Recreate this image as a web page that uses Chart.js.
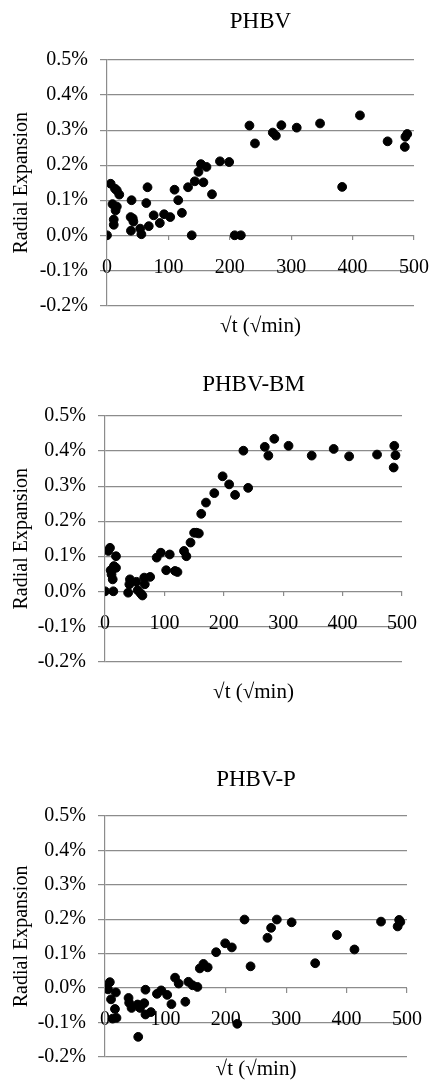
<!DOCTYPE html>
<html>
<head>
<meta charset="utf-8">
<script src="https://cdn.jsdelivr.net/npm/chart.js@4/dist/chart.umd.min.js"></script>
<style>
  html, body { margin: 0; padding: 0; background: #fff; }
  body { width: 430px; height: 1083px; position: relative; overflow: hidden; }
  canvas { position: absolute; left: 0; }
</style>
</head>
<body>
<canvas id="c1"></canvas>
<canvas id="c2"></canvas>
<canvas id="c3"></canvas>
<script>
// values: x = sqrt(t) in sqrt(min), y = radial expansion in %
const titles = ["PHBV", "PHBV-BM", "PHBV-P"];
const yTicks = [-0.2, -0.1, 0, 0.1, 0.2, 0.3, 0.4, 0.5];
const xTicks = [0, 100, 200, 300, 400, 500];

const phbvX = [0, 6, 9, 11, 11, 13, 16, 20, 14, 16, 40, 38.5, 42, 43, 39, 54, 56, 66, 64, 68,
  76, 86, 93, 103, 110, 116, 122, 132, 138, 143, 149, 153, 157, 162, 171, 184, 199, 208, 218, 232,
  241, 270, 275, 284, 309, 347, 383, 412, 457, 485, 486, 489];
const phbvY = [0, 0.147, 0.089, 0.045, 0.030, 0.133, 0.128, 0.116, 0.071, 0.082, 0.1, 0.052, 0.048, 0.039, 0.013, 0.019, 0.003, 0.137, 0.092, 0.026,
  0.057, 0.035, 0.06, 0.052, 0.13, 0.1, 0.064, 0.137, 0, 0.154, 0.181, 0.203, 0.151, 0.195, 0.117, 0.211, 0.209, 0, 0, 0.313,
  0.262, 0.293, 0.284, 0.314, 0.307, 0.319, 0.138, 0.342, 0.268, 0.252, 0.281, 0.289];

const bmX = [0, 14, 5.6, 8.4, 18.5, 9.5, 13, 15, 18.5, 11, 13, 39, 41, 42, 53, 55, 63, 67, 66, 76,
  87, 94, 103, 109, 118, 122, 133, 137, 144, 150, 154, 158, 162, 170, 184, 198, 209, 219, 233, 241,
  269, 275, 285, 309, 348, 385, 411, 458, 487, 489, 486, 60];
const bmY = [0, 0, 0.115, 0.124, 0.1, 0.06, 0.063, 0.072, 0.067, 0.048, 0.034, -0.004, 0.02, 0.034, 0.027, 0.003, -0.012, 0.02, 0.039, 0.041,
  0.096, 0.11, 0.06, 0.105, 0.058, 0.055, 0.115, 0.1, 0.139, 0.167, 0.167, 0.165, 0.221, 0.253, 0.28, 0.328, 0.305, 0.275, 0.401, 0.295,
  0.412, 0.387, 0.435, 0.415, 0.387, 0.406, 0.385, 0.39, 0.415, 0.388, 0.353, -0.006];

const pX = [0, 8, 5, 10, 18, 16.5, 12.7, 19, 39, 40, 44, 55, 54, 58, 67, 65, 67, 76, 86, 93,
  103, 110, 116, 122, 133, 138, 145, 153, 157, 163, 170, 184, 199, 210, 219, 231, 241, 269, 275, 284.5,
  309, 348, 384, 413, 457, 484.5, 487, 489];
const pY = [0, 0.017, -0.004, -0.033, -0.013, -0.061, -0.089, -0.087, -0.029, -0.043, -0.058, -0.142, -0.048, -0.058, -0.005, -0.044, -0.077, -0.07, -0.017, -0.007,
  -0.02, -0.047, 0.03, 0.013, -0.04, 0.018, 0.008, 0.003, 0.057, 0.07, 0.06, 0.104, 0.13, 0.118, -0.104, 0.199, 0.063, 0.146, 0.175, 0.199,
  0.191, 0.072, 0.154, 0.112, 0.193, 0.179, 0.198, 0.192];

const seriesX = [phbvX, bmX, pX];
const seriesY = [phbvY, bmY, pY];

// page positions of each panel (title centre, plot box, x title centre)
const panels = [
  { top: 0,   titleY: 22,  plotTop: 60,  plotBottom: 305,  plotLeft: 107, plotRight: 414, xTitleY: 326 },
  { top: 340, titleY: 385, plotTop: 416, plotBottom: 661,  plotLeft: 105, plotRight: 402, xTitleY: 692 },
  { top: 710, titleY: 780, plotTop: 816, plotBottom: 1058, plotLeft: 105, plotRight: 407, xTitleY: 1069 },
];

const serif = "'Liberation Serif', 'Times New Roman', serif";
const gridColor = "#8c8c8c";
Chart.defaults.font.family = serif;
Chart.defaults.color = "#000";

panels.forEach((p, i) => {
  const canvas = document.getElementById("c" + (i + 1));
  const h = p.xTitleY + 13 - p.top;
  canvas.width = 430;
  canvas.height = h;
  canvas.style.top = p.top + "px";

  const pts = seriesX[i].map((x, k) => ({ x: x, y: seriesY[i][k] }));

  new Chart(canvas, {
    type: "scatter",
    data: {
      datasets: [{
        data: pts,
        xAxisID: "x",
        yAxisID: "y",
        backgroundColor: "#000",
        borderColor: "#000",
        pointRadius: 4.4,
        pointHoverRadius: 4.4,
      }],
    },
    options: {
      responsive: false,
      animation: false,
      layout: { padding: { top: 0, left: 0, bottom: 0, right: 430 - p.plotRight } },
      plugins: {
        legend: { display: false },
        tooltip: { enabled: false },
        title: {
          display: true,
          text: titles[i],
          fullSize: false,
          color: "#000",
          font: { size: 23, weight: "normal", family: serif },
          padding: { top: p.titleY - p.top - 13.8, bottom: p.plotTop - p.titleY - 13.8 },
        },
      },
      scales: {
        x: {
          type: "linear",
          position: "bottom",
          min: 0,
          max: 500,
          ticks: { display: false },
          grid: { display: false, drawTicks: false },
          border: { display: false },
          title: {
            display: true,
            text: "\u221At (\u221Amin)",
            color: "#000",
            font: { size: 21, family: serif },
            padding: { top: Math.max(0, p.xTitleY - p.plotBottom - 12.6), bottom: 0 },
          },
        },
        xt: {
          type: "linear",
          axis: "x",
          position: { y: 0 },
          min: 0,
          max: 500,
          afterBuildTicks: (s) => { s.ticks = xTicks.map((v) => ({ value: v })); },
          afterFit: (s) => { s.paddingLeft = 0; s.paddingRight = 0; },
          ticks: { color: "#000", padding: 15, maxRotation: 0, font: { size: 20, family: serif } },
          grid: { drawOnChartArea: false, drawTicks: true, tickLength: 5, color: gridColor, lineWidth: 1.2 },
          border: { display: false },
        },
        y: {
          min: -0.2,
          max: 0.5,
          afterBuildTicks: (s) => { s.ticks = yTicks.map((v) => ({ value: v })); },
          afterFit: (s) => { s.width = p.plotLeft; },
          ticks: {
            color: "#000",
            padding: 12,
            font: { size: 20, family: serif },
            callback: (v) => v.toFixed(1) + "%",
          },
          grid: { color: gridColor, lineWidth: 1.2, tickLength: 7 },
          border: { display: true, color: gridColor, width: 1.2 },
          title: {
            display: true,
            text: "Radial Expansion",
            color: "#000",
            font: { size: 20, family: serif },
            padding: { top: 10, bottom: 0 },
          },
        },
      },
    },
  });
});
</script>
</body>
</html>
